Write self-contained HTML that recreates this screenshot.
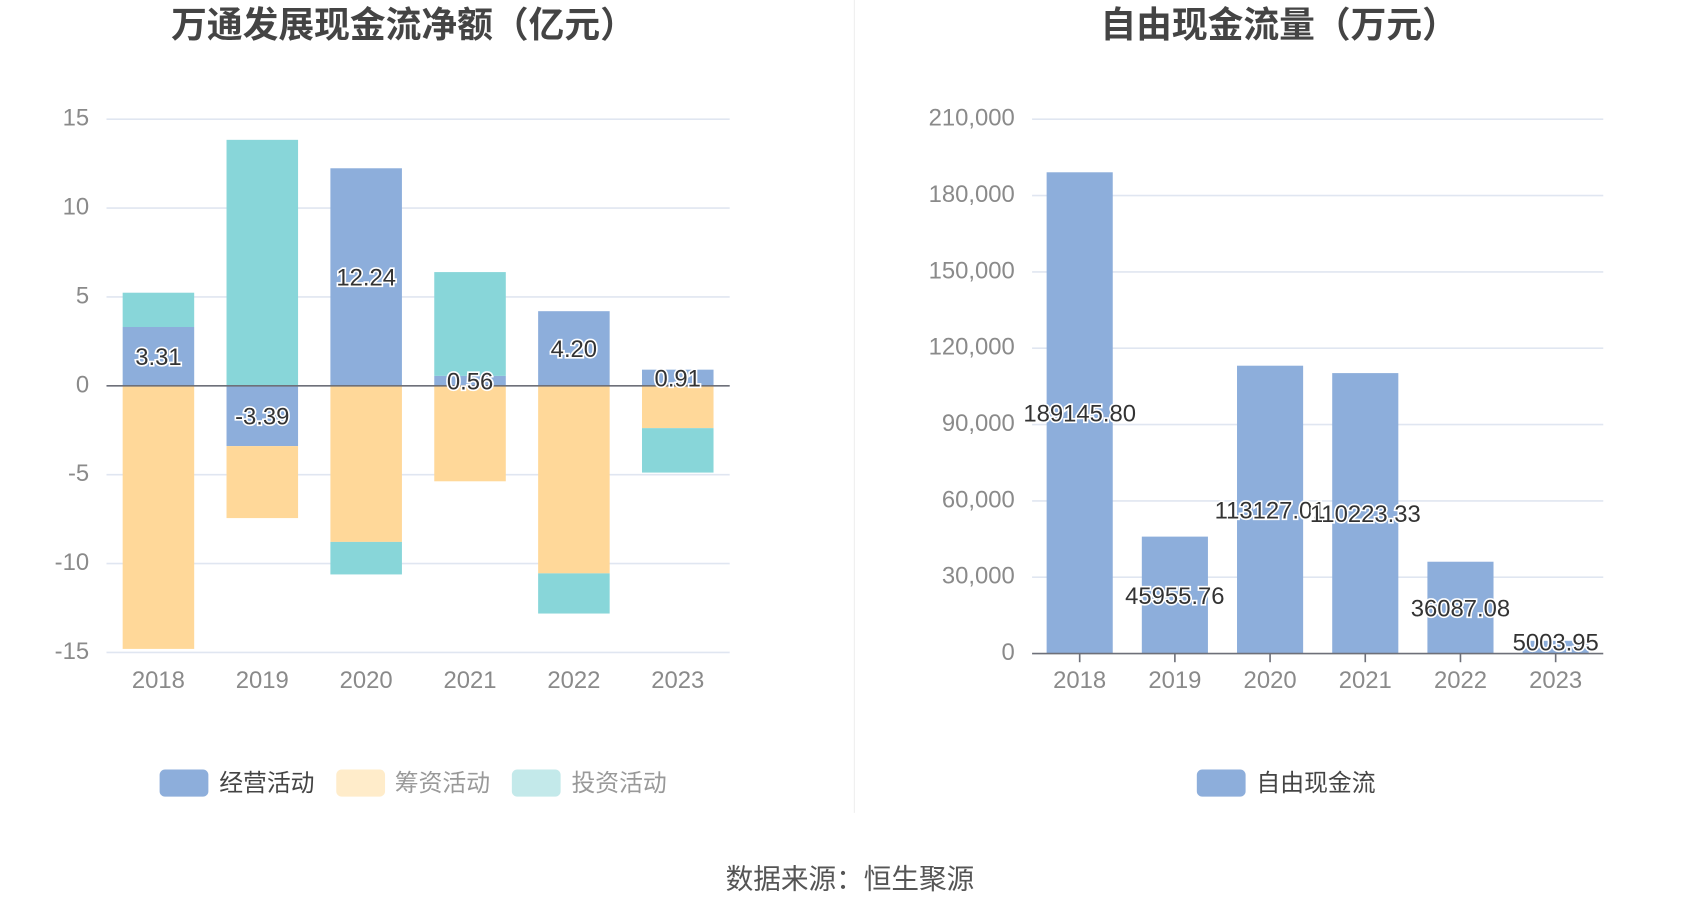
<!DOCTYPE html>
<html><head><meta charset="utf-8"><style>
html,body{margin:0;padding:0;background:#fff;width:1700px;height:918px;overflow:hidden}
svg text{font-family:"Liberation Sans","Noto Sans CJK SC",sans-serif}
</style></head><body>
<svg id="c" width="1700" height="918" viewBox="0 0 1568 847" xmlns="http://www.w3.org/2000/svg">
<text x="372" y="34" text-anchor="middle" font-size="33" font-weight="bold" fill="#444">万通发展现金流净额（亿元）</text>
<text x="1180" y="34" text-anchor="middle" font-size="33" font-weight="bold" fill="#444">自由现金流量（万元）</text>
<line x1="788" y1="0" x2="788" y2="750" stroke="#eee" stroke-width="1"/>
<g id="left"></g>
<g id="right"></g>
<g>
<rect x="147" y="710" width="45" height="25" rx="5" fill="#8daedb"/>
<text x="202" y="730" font-size="22" fill="#444">经营活动</text>
<rect x="310" y="710" width="45" height="25" rx="5" fill="#ffecca"/>
<text x="364" y="730" font-size="22" fill="#999">筹资活动</text>
<rect x="472" y="710" width="45" height="25" rx="5" fill="#c3e9ea"/>
<text x="527" y="730" font-size="22" fill="#999">投资活动</text>
</g>
<g>
<rect x="1104" y="710" width="45" height="25" rx="5" fill="#8daedb"/>
<text x="1159" y="730" font-size="22" fill="#444">自由现金流</text>
</g>
<text x="784" y="820" text-anchor="middle" font-size="25.5" fill="#555">数据来源：恒生聚源</text>
</svg>
<script>
const years=['2018','2019','2020','2021','2022','2023'];
const operating=[3.31,-3.39,12.24,0.56,4.20,0.91];
const financing=[-14.8,-4.05,-8.78,-5.37,-10.55,-2.38];
const investing=[1.93,13.84,-1.83,5.84,-2.26,-2.5];
const leftTicks=[15,10,5,0,-5,-10,-15];
const freeCash=[189145.80,45955.76,113127.01,110223.33,36087.08,5003.95];
const freeLabels=['189145.80','45955.76','113127.01','110223.33','36087.08','5003.95'];
const rightTicks=[0,30000,60000,90000,120000,150000,180000,210000];
const NS='http://www.w3.org/2000/svg';
function mk(p,t,a){const e=document.createElementNS(NS,t);for(const k in a)e.setAttribute(k,a[k]);p.appendChild(e);return e;}
const L=document.getElementById('left');
const lx0=98,lx1=673,band=(lx1-lx0)/years.length,bw=66;
const ly=v=>356-v*16.4;
const lxc=i=>lx0+band*(i+0.5);
leftTicks.forEach(t=>{
 const g=mk(L,'line',{x1:lx0,x2:lx1,y1:ly(t),y2:ly(t),stroke:'#e0e6f1','stroke-width':1.5});
 
 
 const tx=mk(L,'text',{x:82,y:ly(t)+6,'text-anchor':'end','font-size':22,fill:'#8a8a8a'});tx.textContent=t;
 
 
});
const series=[[operating,'#8daedb','bar-operating'],[financing,'#ffd899','bar-financing'],[investing,'#88d6d9','bar-investing']];
years.forEach((y,i)=>{
 let pos=0,neg=0;
 series.forEach(([arr,col,name])=>{
  const v=arr[i];let a,b;
  if(v>=0){a=pos;b=pos+v;pos=b;}else{a=neg;b=neg+v;neg=b;}
  const r=mk(L,'rect',{x:lxc(i)-bw/2,y:Math.min(ly(a),ly(b)),width:bw,height:Math.abs(ly(a)-ly(b)),fill:col});
  
  
 });
 const tx=mk(L,'text',{x:lxc(i),y:635,'text-anchor':'middle','font-size':22,fill:'#8a8a8a'});
 tx.textContent=y;
 
 
});
mk(L,'line',{x1:lx0,x2:lx1,y1:ly(0),y2:ly(0),stroke:'#6e7079','stroke-width':1.5});
years.forEach((y,i)=>{
 const v=operating[i];
 const lb=mk(L,'text',{x:lxc(i),y:ly(v/2)+8,'text-anchor':'middle','font-size':22,fill:'#333',stroke:'#fff','stroke-width':3,'paint-order':'stroke'});
 lb.textContent=v.toFixed(2);
 
 
});
const R=document.getElementById('right');
const rx0=952,rx1=1479,rband=(rx1-rx0)/years.length,rbw=61;
const ry=v=>603-v*(493/210000);
const rxc=i=>rx0+rband*(i+0.5);
rightTicks.forEach(t=>{
 if(t>0){const g=mk(R,'line',{x1:rx0,x2:rx1,y1:ry(t),y2:ry(t),stroke:'#e0e6f1','stroke-width':1.5});
 
 }
 const tx=mk(R,'text',{x:936,y:ry(t)+6,'text-anchor':'end','font-size':22,fill:'#8a8a8a'});tx.textContent=t.toLocaleString('en-US');
 
 
});
years.forEach((y,i)=>{
 const v=freeCash[i];
 const r=mk(R,'rect',{x:rxc(i)-rbw/2,y:ry(v),width:rbw,height:ry(0)-ry(v),fill:'#8daedb'});
 
 
 mk(R,'line',{x1:rxc(i),x2:rxc(i),y1:603,y2:611,stroke:'#6e7079','stroke-width':1.5});
 const tx=mk(R,'text',{x:rxc(i),y:635,'text-anchor':'middle','font-size':22,fill:'#8a8a8a'});tx.textContent=y;
 
 
});
mk(R,'line',{x1:rx0,x2:rx1,y1:603,y2:603,stroke:'#6e7079','stroke-width':1.5});
years.forEach((y,i)=>{
 const v=freeCash[i];
 const lb=mk(R,'text',{x:rxc(i),y:Math.min(ry(v/2)+8,600),'text-anchor':'middle','font-size':22,fill:'#333',stroke:'#fff','stroke-width':3,'paint-order':'stroke'});
 lb.textContent=freeLabels[i];
 
 
});
</script>
</body></html>
